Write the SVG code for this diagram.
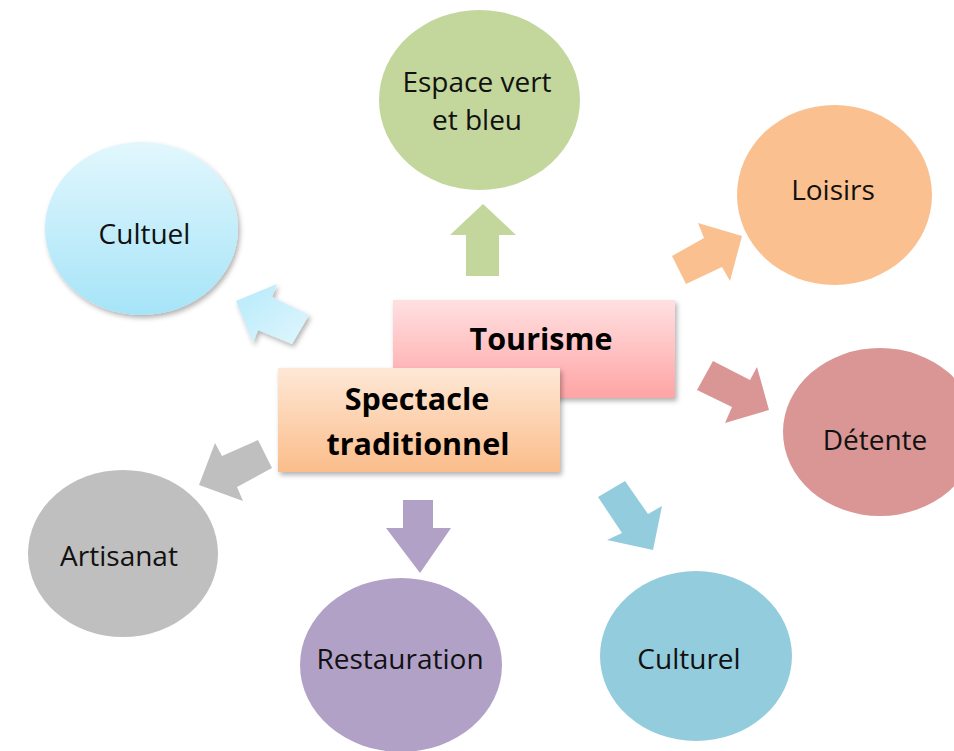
<svg xmlns="http://www.w3.org/2000/svg" width="954" height="751" viewBox="0 0 954 751">
<defs>
<linearGradient id="gCultuel" x1="0" y1="0" x2="0" y2="1"><stop offset="0" stop-color="#e2f7fd"/><stop offset="1" stop-color="#a6e4f8"/></linearGradient>
<linearGradient id="gArrowBlue" x1="0" y1="0" x2="1" y2="1"><stop offset="0" stop-color="#b6eafb"/><stop offset="1" stop-color="#e0f6fd"/></linearGradient>
<linearGradient id="gTour" x1="0" y1="0" x2="0" y2="1"><stop offset="0" stop-color="#ffe0e1"/><stop offset="1" stop-color="#ffa4a5"/></linearGradient>
<linearGradient id="gSpec" x1="0" y1="0" x2="0" y2="1"><stop offset="0" stop-color="#fee8d6"/><stop offset="1" stop-color="#fbbd8b"/></linearGradient>
<filter id="sh" x="-10%" y="-10%" width="125%" height="130%"><feDropShadow dx="2" dy="3" stdDeviation="2.5" flood-color="#000" flood-opacity="0.3"/></filter>
</defs>
<style>
.lbl{font-family:"Open Sans","Liberation Sans",sans-serif;font-size:28px;fill:#111;text-anchor:middle}
.bold{font-family:"Open Sans","Liberation Sans",sans-serif;font-size:30.5px;font-weight:bold;fill:#000;text-anchor:middle}
</style>
<rect width="954" height="751" fill="#fff"/>
<g id="connectors">
<polygon points="483,204 516,235 499,235 499,276 466,276 466,235 450,235" fill="#c3d69b"/>
<polygon points="403,500 433,500 433,528 451,528 420,573 386,528 403,528" fill="#b2a1c7"/>
<polygon points="236,301 277,284 272,297 309,315 292,344 258,330 253,343" fill="url(#gArrowBlue)" filter="url(#sh)"/>
<polygon points="742,236 698,223 704,238 672,256 686,284 722,267 730,281" fill="#fac08f"/>
<polygon points="769,410 757,367 750,380 713,361 697,390 732,407 725,423" fill="#d99694"/>
<polygon points="598,497 625,481 648,514 662,506 653,550 607,540 622,533" fill="#93cddd"/>
<polygon points="199,485 215,443 222,456 258,440 272,468 237,487 243,501" fill="#bfbfbf"/>
</g>
<g id="espace"><ellipse cx="479.5" cy="100" rx="100.5" ry="90" fill="#c3d69b"/><text class="lbl" x="477" y="92">Espace vert</text><text class="lbl" x="477" y="130">et bleu</text></g>
<g id="loisirs"><ellipse cx="834.5" cy="195" rx="97.5" ry="90" fill="#fac08f"/><text class="lbl" x="833" y="200">Loisirs</text></g>
<g id="cultuel"><ellipse cx="141.5" cy="228.5" rx="96.5" ry="86.5" fill="url(#gCultuel)" filter="url(#sh)"/><text class="lbl" x="144.5" y="244">Cultuel</text></g>
<g id="detente"><ellipse cx="880" cy="432" rx="97" ry="84" fill="#d99694"/><text class="lbl" x="875" y="450">Détente</text></g>
<g id="artisanat"><ellipse cx="123" cy="553.5" rx="95" ry="83.5" fill="#bfbfbf"/><text class="lbl" x="119" y="566">Artisanat</text></g>
<g id="restauration"><ellipse cx="401" cy="665" rx="101" ry="87" fill="#b2a1c7"/><text class="lbl" x="400" y="669">Restauration</text></g>
<g id="culturel"><ellipse cx="696" cy="656" rx="96" ry="85" fill="#93cddd"/><text class="lbl" x="689" y="669">Culturel</text></g>
<g id="tourisme"><rect x="393" y="300" width="282" height="98" fill="url(#gTour)" filter="url(#sh)"/><text class="bold" x="541" y="350">Tourisme</text></g>
<g id="spectacle"><rect x="278" y="368" width="282" height="104" fill="url(#gSpec)" filter="url(#sh)"/><text class="bold" x="417" y="410">Spectacle</text><text class="bold" x="418" y="455">traditionnel</text></g>
</svg>
